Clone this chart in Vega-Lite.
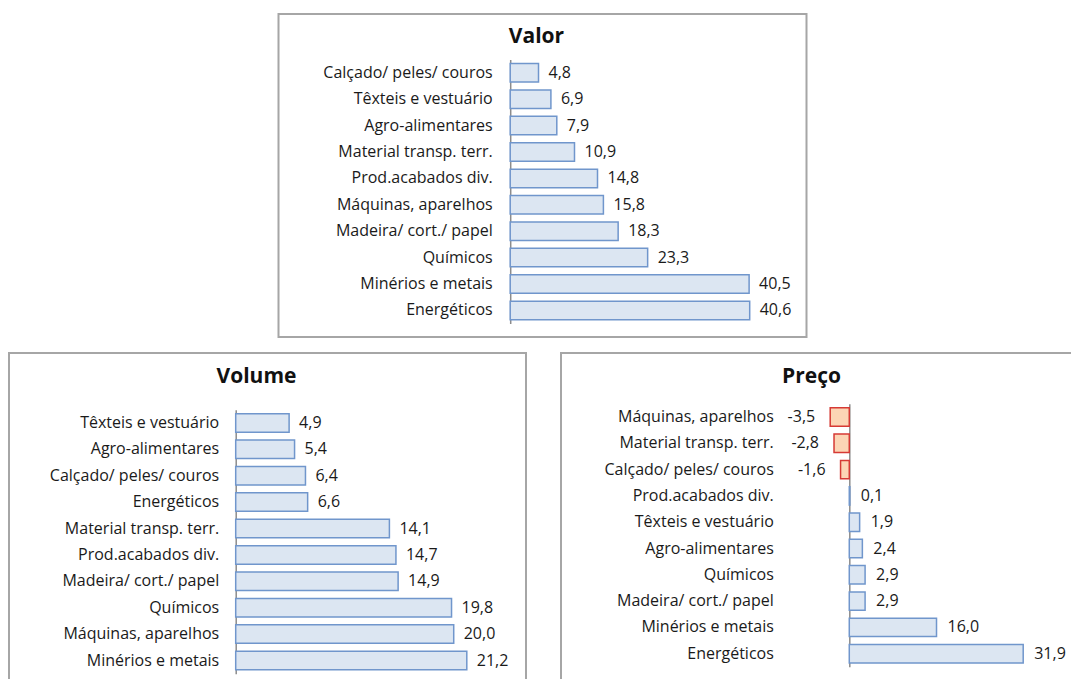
{
  "$schema": "https://vega.github.io/schema/vega-lite/v6.json",
  "background": "white",
  "padding": {"left": 8, "top": 13, "right": 0, "bottom": 0},
  "config": {
    "font": "Open Sans",
    "locale": {"number": {"decimal": ",", "thousands": ".", "grouping": [3], "currency": ["", " €"], "minus": "-"}},
    "view": {"stroke": "#a6a6a6", "strokeWidth": 2},
    "title": {"fontSize": 21, "fontWeight": "bold", "color": "#111111", "font": "Open Sans", "baseline": "alphabetic", "anchor": "middle", "frame": "group"},
    "text": {"fontSize": 16, "color": "#1a1a1a", "font": "Open Sans"},
    "axisY": {"ticks": false, "title": null, "domainColor": "#8c8c8c", "domainWidth": 1.5, "labelFont": "Open Sans", "labelFontSize": 16, "labelColor": "#1a1a1a", "grid": false},
    "bar": {"fill": "#dce6f2", "stroke": "#7096cc", "strokeWidth": 1.5}
  },
  "datasets": {
    "valor": [
      {"cat": "Calçado/ peles/ couros", "v": 4.8},
      {"cat": "Têxteis e vestuário", "v": 6.9},
      {"cat": "Agro-alimentares", "v": 7.9},
      {"cat": "Material transp. terr.", "v": 10.9},
      {"cat": "Prod.acabados div.", "v": 14.8},
      {"cat": "Máquinas, aparelhos", "v": 15.8},
      {"cat": "Madeira/ cort./ papel", "v": 18.3},
      {"cat": "Químicos", "v": 23.3},
      {"cat": "Minérios e metais", "v": 40.5},
      {"cat": "Energéticos", "v": 40.6}
    ],
    "volume": [
      {"cat": "Têxteis e vestuário", "v": 4.9},
      {"cat": "Agro-alimentares", "v": 5.4},
      {"cat": "Calçado/ peles/ couros", "v": 6.4},
      {"cat": "Energéticos", "v": 6.6},
      {"cat": "Material transp. terr.", "v": 14.1},
      {"cat": "Prod.acabados div.", "v": 14.7},
      {"cat": "Madeira/ cort./ papel", "v": 14.9},
      {"cat": "Químicos", "v": 19.8},
      {"cat": "Máquinas, aparelhos", "v": 20.0},
      {"cat": "Minérios e metais", "v": 21.2}
    ],
    "preco": [
      {"cat": "Máquinas, aparelhos", "v": -3.5},
      {"cat": "Material transp. terr.", "v": -2.8},
      {"cat": "Calçado/ peles/ couros", "v": -1.6},
      {"cat": "Prod.acabados div.", "v": 0.1},
      {"cat": "Têxteis e vestuário", "v": 1.9},
      {"cat": "Agro-alimentares", "v": 2.4},
      {"cat": "Químicos", "v": 2.9},
      {"cat": "Madeira/ cort./ papel", "v": 2.9},
      {"cat": "Minérios e metais", "v": 16.0},
      {"cat": "Energéticos", "v": 31.9}
    ]
  },
  "spacing": 14,
  "center": true,
  "vconcat": [
    {
      "width": 528,
      "height": 323,
      "title": {"text": "Valor", "offset": -33, "dx": -6},
      "data": {"name": "valor"},
      "encoding": {
        "y": {"field": "cat", "type": "nominal", "sort": null,
              "scale": {"range": [45.6, 309.6], "paddingInner": 0.3, "paddingOuter": 0.15},
              "axis": {"offset": -231.7, "labelPadding": 18}}
      },
      "layer": [
        {"mark": {"type": "bar"},
         "encoding": {
           "x": {"field": "v", "type": "quantitative", "scale": {"domain": [0, 40.6], "range": [231.7, 471.2], "nice": false, "zero": false}, "axis": null},
           "x2": {"datum": 0}}},
        {"mark": {"type": "text", "align": "left", "dx": 10},
         "encoding": {
           "x": {"field": "v", "type": "quantitative"},
           "text": {"field": "v", "type": "quantitative", "format": ".1f"}}}
      ]
    },
    {
      "spacing": 33,
      "hconcat": [
        {
          "width": 517,
          "height": 340,
          "title": {"text": "Volume", "offset": -34, "dx": -11},
          "data": {"name": "volume"},
          "encoding": {
            "y": {"field": "cat", "type": "nominal", "sort": null,
                  "scale": {"range": [56.7, 320.7], "paddingInner": 0.3, "paddingOuter": 0.15},
                  "axis": {"offset": -226.7, "labelPadding": 17}}
          },
          "layer": [
            {"mark": {"type": "bar"},
             "encoding": {
               "x": {"field": "v", "type": "quantitative", "scale": {"domain": [0, 21.2], "range": [226.7, 457.8], "nice": false, "zero": false}, "axis": null},
               "x2": {"datum": 0}}},
            {"mark": {"type": "text", "align": "left", "dx": 10},
             "encoding": {
               "x": {"field": "v", "type": "quantitative"},
               "text": {"field": "v", "type": "quantitative", "format": ".1f"}}}
          ]
        },
        {
          "width": 515,
          "height": 340,
          "title": {"text": "Preço", "offset": -34, "dx": -7},
          "data": {"name": "preco"},
          "encoding": {
            "y": {"field": "cat", "type": "nominal", "sort": null,
                  "scale": {"range": [50.85, 313.85], "paddingInner": 0.3, "paddingOuter": 0.15},
                  "axis": {"offset": -288.3, "labelPadding": 76}}
          },
          "layer": [
            {"mark": {"type": "bar"},
             "encoding": {
               "x": {"field": "v", "type": "quantitative", "scale": {"domain": [-3.5, 31.9], "range": [269.2, 462.2], "nice": false, "zero": false}, "axis": null},
               "x2": {"datum": 0},
               "fill": {"condition": {"test": "datum.v < 0", "value": "#fcd5b5"}, "value": "#dce6f2"},
               "stroke": {"condition": {"test": "datum.v < 0", "value": "#d63a35"}, "value": "#7096cc"}}},
            {"transform": [{"filter": "datum.v >= 0"}],
             "mark": {"type": "text", "align": "left", "dx": 11},
             "encoding": {
               "x": {"field": "v", "type": "quantitative"},
               "text": {"field": "v", "type": "quantitative", "format": ".1f"}}},
            {"transform": [{"filter": "datum.v < 0"}],
             "mark": {"type": "text", "align": "right", "dx": -15},
             "encoding": {
               "x": {"field": "v", "type": "quantitative"},
               "text": {"field": "v", "type": "quantitative", "format": ".1f"}}}
          ]
        }
      ]
    }
  ]
}
